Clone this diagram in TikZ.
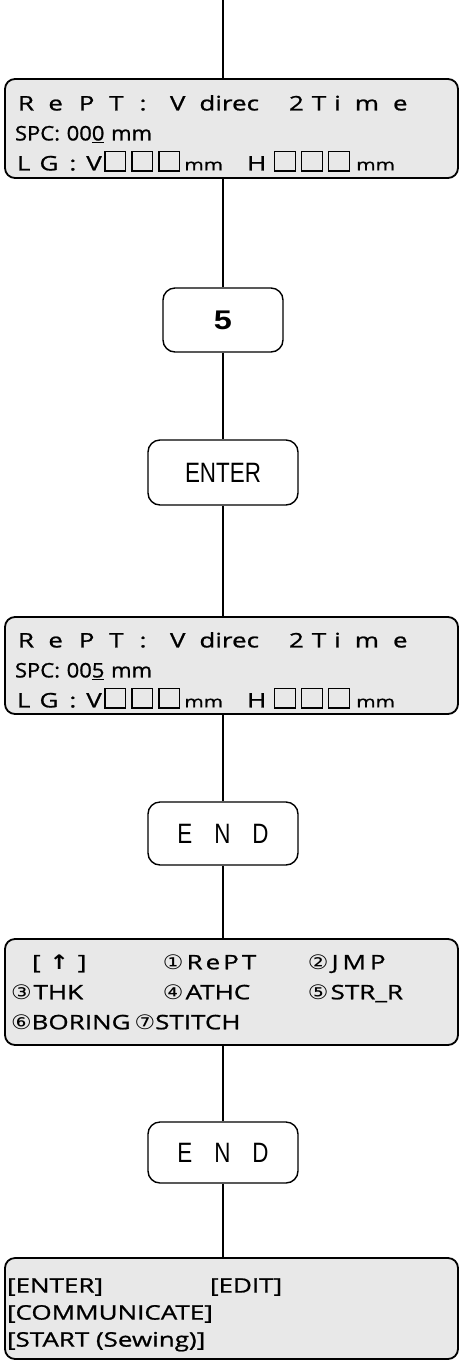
\documentclass[tikz,border=0pt]{standalone}
\usepackage{fontspec}
\usepackage{tikz}
\usetikzlibrary{positioning}
\setmainfont{Liberation Sans}
\newfontfamily\lcdfont[FakeStretch=1.3,FakeBold=1]{Open Sans}
\newfontfamily\spcfont[FakeStretch=1.1,FakeBold=1]{Open Sans}
\newfontfamily\lcdsym[FakeStretch=1.15]{DejaVu Sans}
\newfontfamily\keyfont[FakeStretch=0.8]{Liberation Sans}
\newfontfamily\numfont[FakeStretch=1.2]{Liberation Sans}
\definecolor{lcdgray}{gray}{0.91}
% letter slot and the empty digit cell of the panel
\newcommand{\slot}[1]{\makebox[30.4pt][l]{#1}}
\newcommand{\cell}{{\fboxsep=0pt\fboxrule=1.2pt\fbox{\rule{0pt}{18pt}\hspace{19.6pt}}}}
\newcommand{\cells}{\cell\hspace{5pt}\cell\hspace{5pt}\cell}
\newcommand{\smallmm}{{\fontsize{16}{16}\selectfont mm}}

\begin{document}
\begin{tikzpicture}[x=1pt,y=-1pt,
  lcd/.style={draw,line width=1.8pt,rounded corners=10pt,fill=lcdgray,
    text width=441pt,inner xsep=6pt,align=left,
    font=\lcdfont\fontsize{20}{30}\selectfont},
  keybox/.style={draw,line width=1.4pt,rounded corners=12pt,minimum width=150pt,
    font=\keyfont\fontsize{28}{28}\selectfont},
  wire/.style={line width=1.1pt}]
\useasboundingbox (0,0) rectangle (460,1361);
\coordinate (top) at (223,0);

% panel screens
\node[lcd,minimum height=99pt] (d1) at (231.5,128.5)
  {\rule{0pt}{25pt}\hspace{7pt}\slot{R}\slot{e}\slot{P}\slot{T}\slot{:}V\hspace{14pt}direc\hspace{30pt}2\hspace{8pt}T\hspace{8pt}i\hspace{14pt}m\hspace{14pt}e\\
   \hspace{4pt}{\spcfont\fontsize{20}{20}\selectfont SPC: 00\underline{0} mm}\\
   \hspace{6pt}L\hspace{9pt}G\hspace{11pt}:\hspace{10pt}V\hspace{2.6pt}\cells\hspace{4pt}\smallmm\hspace{24pt}H\hspace{8pt}\cells\hspace{6pt}\smallmm};
\node[lcd,minimum height=97pt] (d2) at (231.5,665.5)
  {\rule{0pt}{25pt}\hspace{7pt}\slot{R}\slot{e}\slot{P}\slot{T}\slot{:}V\hspace{14pt}direc\hspace{30pt}2\hspace{8pt}T\hspace{8pt}i\hspace{14pt}m\hspace{14pt}e\\
   \hspace{4pt}{\spcfont\fontsize{20}{20}\selectfont SPC: 00\underline{5} mm}\\
   \hspace{6pt}L\hspace{9pt}G\hspace{11pt}:\hspace{10pt}V\hspace{2.6pt}\cells\hspace{4pt}\smallmm\hspace{24pt}H\hspace{8pt}\cells\hspace{6pt}\smallmm};
\node[lcd,minimum height=106pt] (d3) at (231.5,992)
  {\makebox[152pt][l]{\hspace{21pt}{[}\hspace{9pt}{\lcdsym\bfseries ↑}\hspace{9pt}{]}}\makebox[145pt][l]{{\lcdsym ①}\hspace{3pt}R\hspace{3pt}e\hspace{3pt}P\hspace{3pt}T}{\lcdsym ②}\hspace{3pt}J\hspace{4pt}M\hspace{4pt}P\\
   \makebox[152pt][l]{{\lcdsym ③}\hspace{2pt}THK}\makebox[145pt][l]{{\lcdsym ④}\hspace{2pt}ATHC}{\lcdsym ⑤}\hspace{2pt}STR\_R\\
   {\lcdsym ⑥}BORING\hspace{4pt}{\lcdsym ⑦}STITCH};
\node[lcd,minimum height=101pt,font=\lcdfont\fontsize{20}{27}\selectfont] (d4) at (231.5,1308.5)
  {\rule{0pt}{27pt}\hspace{-4pt}\makebox[203pt][l]{{[}ENTER{]}}{[}EDIT{]}\\
   \hspace{-4pt}{[}COMMUNICATE{]}\\
   \hspace{-4pt}{[}START (Sewing){]}};

% keys
\node[keybox,minimum width=120pt,minimum height=64pt,font=\numfont\bfseries\fontsize{27}{27}\selectfont] (k5) at (223,320) {5};
\node[keybox,minimum height=65pt] (kent) at (223,472.5) {ENTER};
\node[keybox,minimum height=63pt] (kend1) at (223,833.5) {E\hspace{22pt}N\hspace{22pt}D};
\node[keybox,minimum height=61pt] (kend2) at (223,1152.5) {E\hspace{22pt}N\hspace{22pt}D};

\draw[wire] (top) -- (top |- d1.north);
\draw[wire] (k5.north |- d1.south) -- (k5.north);
\draw[wire] (k5.south) -- (kent.north);
\draw[wire] (kent.south) -- (kent.south |- d2.north);
\draw[wire] (kend1.north |- d2.south) -- (kend1.north);
\draw[wire] (kend1.south) -- (kend1.south |- d3.north);
\draw[wire] (kend2.north |- d3.south) -- (kend2.north);
\draw[wire] (kend2.south) -- (kend2.south |- d4.north);
\end{tikzpicture}
\end{document}
